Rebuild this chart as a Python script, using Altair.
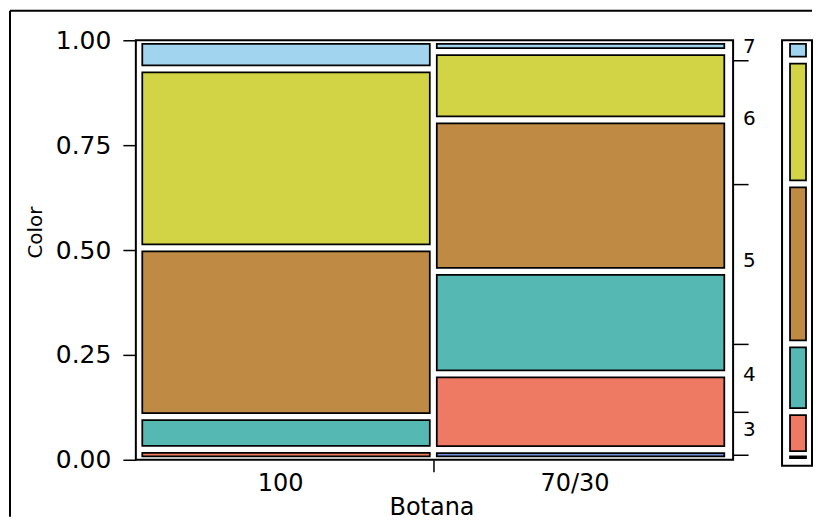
import altair as alt
import pandas as pd

# ---------------- data ----------------
botana = ["100", "70/30"]
col_share = [0.5, 0.5]
color_levels = ["2", "3", "4", "5", "6", "7"]
prop_100 = [0.0, 0.0245, 0.0785, 0.402, 0.427, 0.068]
prop_7030 = [0.024, 0.181, 0.244, 0.361, 0.163, 0.027]
palette = ["#6f8fd8", "#ef7a63", "#55b8b3", "#be8a44", "#d2d445", "#a0d4ef"]
y_ticks = [0.0, 0.25, 0.5, 0.75, 1.0]

FONT = "DejaVu Sans"
W, H = 598, 420
INSET = 3.5
SW = 1.75

# ---------------- derived tables ----------------
props = [prop_100, prop_7030]
rows = []
xstart = 0.0
centers = []
bounds_x = []
for j, name in enumerate(botana):
    xend = xstart + col_share[j]
    centers.append(round((xstart + xend) / 2, 6))
    if j < len(botana) - 1:
        bounds_x.append(round(xend, 6))
    cum = 0.0
    for lvl, p in zip(color_levels, props[j]):
        if p > 0:
            rows.append({"botana": name, "level": lvl, "x0": xstart, "x1": xend,
                         "y0": cum, "y1": cum + p})
        cum += p
    xstart = xend
mosaic_df = pd.DataFrame(rows)

marg = [sum(col_share[j] * props[j][i] for j in range(len(botana)))
        for i in range(len(color_levels))]
mrows = []
cum = 0.0
boundaries = []
for i, lvl in enumerate(color_levels):
    mrows.append({"level": lvl, "y0": cum, "y1": cum + marg[i],
                  "center": cum + marg[i] / 2, "x0": 0.0, "x1": 1.0,
                  "show": marg[i] > 0.02})
    cum += marg[i]
    if i < len(color_levels) - 1:
        boundaries.append(round(cum, 6))
marg_df = pd.DataFrame(mrows)
label_df = marg_df[marg_df["show"]]

xvals = sorted(centers + bounds_x)
label_expr = " : ".join(
    [f"abs(datum.value - {c}) < 0.000001 ? '{n}'" for c, n in zip(centers, botana)]
) + " : ''"
tick_test = " || ".join([f"abs(datum.value - {b}) < 0.000001" for b in bounds_x])

color_scale = alt.Scale(domain=color_levels, range=palette)
xscale = alt.Scale(domain=[-0.005, 1.009], nice=False, zero=False)
yscale = alt.Scale(domain=[0, 1], nice=False, zero=False)

# ---------------- main mosaic ----------------
tiles = alt.Chart(mosaic_df).mark_rect(
    stroke="black", strokeWidth=SW, xOffset=INSET, x2Offset=-INSET,
    yOffset=INSET, y2Offset=-INSET
).encode(
    x=alt.X("x0:Q", scale=xscale, axis=alt.Axis(
        values=xvals, labelExpr=label_expr,
        tickOpacity={"condition": {"test": tick_test, "value": 1}, "value": 0},
        tickSize=12, tickWidth=1.5, tickColor="black", labelPadding=0,
        labelOffset=-6,
        domain=False, grid=False, labelFontSize=24, labelFont=FONT,
        labelColor="black", title="Botana", titleFont=FONT, titleFontSize=24,
        titleFontWeight="normal", titleColor="black", titlePadding=0,
        titleX=296)),
    x2="x1:Q",
    y=alt.Y("y1:Q", scale=yscale, axis=alt.Axis(
        orient="left", values=y_ticks, format=".2f", tickSize=13, tickWidth=1.5,
        tickColor="black", labelPadding=12, domain=False, grid=False,
        labelFontSize=25, labelFont=FONT, labelColor="black",
        title="Color", titleFont="Liberation Sans Narrow, DejaVu Sans", titleFontSize=20,
        titleFontWeight="normal", titleColor="black", titlePadding=10, titleY=192)),
    y2="y0:Q",
    color=alt.Color("level:N", scale=color_scale, legend=None),
)

right_labels = alt.Chart(label_df).mark_text(
    align="left", baseline="middle", fontSize=20, font=FONT, color="black", dy=-3
).encode(
    y=alt.Y("center:Q", scale=yscale, axis=alt.Axis(
        orient="right", values=boundaries, labels=False, tickSize=15,
        tickWidth=1.5, tickColor="black", domain=False, grid=False, title=None)),
    x=alt.value(W + 10),
    text="level:N",
)

frame_df = pd.DataFrame({"k": [0]})
top_rule = alt.Chart(frame_df).mark_rule(color="black", strokeWidth=2).encode(
    x=alt.value(-126), x2=alt.value(677), y=alt.value(-29.5))
left_rule = alt.Chart(frame_df).mark_rule(color="black", strokeWidth=2).encode(
    x=alt.value(-126), y=alt.value(-29.5), y2=alt.value(477))

main = alt.layer(tiles, right_labels, top_rule, left_rule).resolve_axis(
    y="independent").properties(width=W, height=H)

# ---------------- marginal bar ----------------
marg_tiles = alt.Chart(marg_df).mark_rect(
    stroke="black", strokeWidth=SW, xOffset=8, x2Offset=-6,
    yOffset=INSET, y2Offset=-INSET
).encode(
    x=alt.X("x0:Q", scale=alt.Scale(domain=[0, 1], nice=False, zero=False), axis=None),
    x2="x1:Q",
    y=alt.Y("y1:Q", scale=alt.Scale(domain=[-6 / H, 1], nice=False, zero=False), axis=None),
    y2="y0:Q",
    color=alt.Color("level:N", scale=color_scale, legend=None),
).properties(width=30, height=H + 6)

chart = alt.hconcat(main, marg_tiles, spacing=49, bounds="flush").properties(
    padding=0, background="white"
).configure_view(stroke="black", strokeWidth=2)

chart.save("out.html", embed_options={"renderer": "svg", "actions": False})
